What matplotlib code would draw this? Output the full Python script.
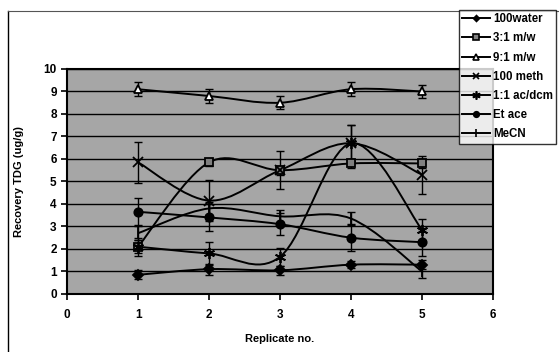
import numpy as np
import matplotlib.pyplot as plt
from matplotlib.path import Path
from matplotlib.patches import PathPatch
from matplotlib.lines import Line2D

plt.rcParams['font.family'] = ['Liberation Sans', 'DejaVu Sans']
plt.rcParams['font.weight'] = 'bold'

# data
replicate = [1, 2, 3, 4, 5]
labels = ['100water', '3:1 m/w', '9:1 m/w', '100 meth', '1:1 ac/dcm', 'Et ace', 'MeCN']
water100 = [0.85, 1.1, 1.05, 1.3, 1.3]
mw31 = [2.1, 5.85, 5.5, 5.8, 5.8]
mw91 = [9.1, 8.8, 8.5, 9.1, 9.0]
meth100 = [5.85, 4.15, 5.5, 6.7, 5.3]
acdcm11 = [2.1, 1.8, 1.65, 6.7, 2.85]
etace = [3.65, 3.4, 3.1, 2.5, 2.3]
mecn = [2.7, 3.8, 3.45, 3.35, 1.0]

err_water100 = [0.2, 0.25, 0.2, 0.15, 0.2]
err_mw31 = [0.3, 0.15, 0.2, 0.2, 0.2]
err_mw91 = [0.3, 0.3, 0.3, 0.3, 0.3]
err_meth100 = [0.9, 0.9, 0.85, 0.8, 0.85]
err_acdcm11 = [0.4, 0.5, 0.4, 0.8, 0.5]
err_etace = [0.6, 0.6, 0.5, 0.6, 0.6]
err_mecn = [0.3, 0.3, 0.3, 0.3, 0.3]

series = [water100, mw31, mw91, meth100, acdcm11, etace, mecn]
errors = [err_water100, err_mw31, err_mw91, err_meth100, err_acdcm11, err_etace, err_mecn]
markers = ['D', 's', '^', 'x', (6, 2, 0), 'o', '|']
faces = ['black', '#808080', 'white', 'black', 'black', 'black', 'black']
sizes = [5, 6, 6, 7, 8, 6, 8]


def smooth_path(x, y):
    # Excel-like smoothed line: cubic Bezier segments through the points
    p = np.column_stack([x, y]).astype(float)
    n = len(p)
    verts = [p[0]]
    codes = [Path.MOVETO]
    for i in range(n - 1):
        p0 = p[i - 1] if i > 0 else p[i]
        p3 = p[i + 2] if i + 2 < n else p[i + 1]
        c1 = p[i] + (p[i + 1] - p0) / 6
        c2 = p[i + 1] - (p3 - p[i]) / 6
        verts += [c1, c2, p[i + 1]]
        codes += [Path.CURVE4] * 3
    return Path(verts, codes)


fig = plt.figure(figsize=(5.59, 3.52), dpi=100)
ax = fig.add_axes([0.12, 0.165, 0.762, 0.639])
ax.set_facecolor('#a6a6a6')

for y, e, m, fc, ms in zip(series, errors, markers, faces, sizes):
    ax.add_patch(PathPatch(smooth_path(replicate, y), fill=False, edgecolor='black', lw=1.4, zorder=3))
    ax.errorbar(replicate, y, yerr=e, fmt='none', ecolor='black', elinewidth=1.0, capsize=3, capthick=1.0, zorder=4)
    ax.plot(replicate, y, linestyle='none', marker=m, markersize=ms, markerfacecolor=fc,
            markeredgecolor='black', markeredgewidth=1.3, zorder=5)

ax.set_xlim(0, 6)
ax.set_ylim(0, 10)
ax.set_xticks(range(0, 7))
ax.set_yticks(range(0, 11))
ax.yaxis.grid(True, color='black', lw=1.0)
ax.set_axisbelow(True)
for s in ax.spines.values():
    s.set_linewidth(1.5)
ax.tick_params(labelsize=8.5, length=4, width=1.2, direction='out')
ax.tick_params(axis='x', pad=7)
for t in ax.get_xticklabels() + ax.get_yticklabels():
    t.set_fontweight('bold')
ax.set_xlabel('Replicate no.', fontsize=8, fontweight='bold', labelpad=9)
ax.set_ylabel('Recovery TDG (ug/g)', fontsize=8, fontweight='bold', labelpad=14)

handles = [Line2D([], [], color='black', lw=1.4, marker=m, markersize=ms - 2, markerfacecolor=fc,
                  markeredgecolor='black', markeredgewidth=1.2)
           for m, fc, ms in zip(markers, faces, sizes)]
leg = fig.legend(handles, labels, loc='upper left', bbox_to_anchor=(0.821, 0.972),
                 fontsize=8.3, frameon=True, fancybox=False, edgecolor='black',
                 handlelength=2.4, handletextpad=0.25, labelspacing=0.62, borderpad=0.3,
                 borderaxespad=0)
leg.get_frame().set_linewidth(1.0)
for t in leg.get_texts():
    t.set_fontweight('bold')

# outer chart frame
fig.add_artist(Line2D([8 / 559, 8 / 559], [0, 1 - 11 / 352], color='black', lw=1.0, transform=fig.transFigure))
fig.add_artist(Line2D([8 / 559, 1], [1 - 11 / 352, 1 - 11 / 352], color='#555555', lw=0.8, transform=fig.transFigure))

fig.savefig('out.png', dpi=100)
